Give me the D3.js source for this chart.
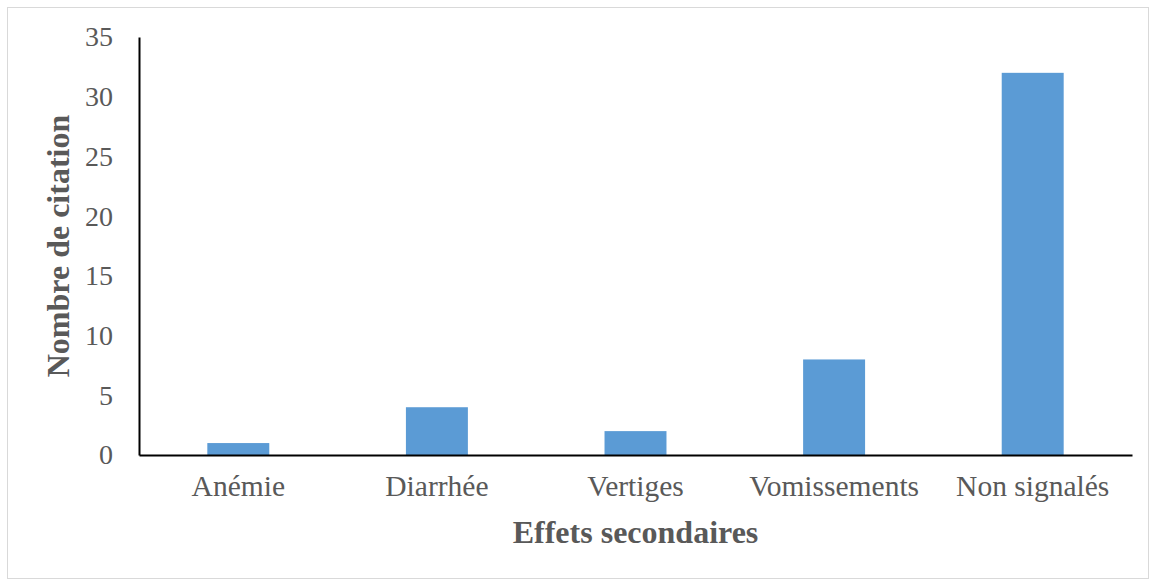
<!DOCTYPE html>
<html><head><meta charset="utf-8">
<script src="https://d3js.org/d3.v7.min.js"></script>
<style>body{margin:0;background:#fff}</style>
</head><body>
<script>
const categories = ["Anémie","Diarrhée","Vertiges","Vomissements","Non signalés"];
const values = [1,4,2,8,32];
const yTicks = [0,5,10,15,20,25,30,35];
const xTitle = "Effets secondaires";
const yTitle = "Nombre de citation";

(function(){
const W = 1155, H = 581;
const svg = d3.select("body").append("svg").attr("width", W).attr("height", H);
svg.append("rect").attr("x",7.5).attr("y",7.5).attr("width",1141).attr("height",571)
  .attr("fill","#fff").attr("stroke","#d9d9d9").attr("stroke-width",1);

const mLeft = 139, mRight = 1132, mTop = 37, mBottom = 455;
const x = d3.scaleBand().domain(categories).range([mLeft,mRight]).paddingInner(0.688).paddingOuter(0.344);
const y = d3.scaleLinear().domain([0,35]).range([mBottom,mTop]);
const font = "'Liberation Serif','Times New Roman',serif";

svg.selectAll("rect.bar").data(values).join("rect").attr("class","bar")
  .attr("x",(d,i)=>x(categories[i])).attr("width",x.bandwidth())
  .attr("y",d=>y(d)).attr("height",d=>mBottom-y(d)).attr("fill","#5B9BD5");

const ya = svg.append("g").attr("transform",`translate(${mLeft},0)`)
  .call(d3.axisLeft(y).tickValues(yTicks).tickSize(0).tickPadding(26));
ya.select(".domain").attr("stroke","#000").attr("stroke-width",2);
ya.selectAll("text").attr("font-family",font).attr("font-size",28).attr("fill","#595959");

const xa = svg.append("g").attr("transform",`translate(0,${mBottom})`)
  .call(d3.axisBottom(x).tickSize(0).tickPadding(20));
xa.select(".domain").attr("stroke","#000").attr("stroke-width",2);
xa.selectAll("text").attr("font-family",font).attr("font-size",29.5).attr("fill","#595959");

svg.append("text").attr("x",(mLeft+mRight)/2).attr("y",543).attr("text-anchor","middle")
  .attr("font-family",font).attr("font-size",32).attr("font-weight","bold").attr("fill","#595959").text(xTitle);
svg.append("text").attr("transform",`translate(69,246) rotate(-90)`).attr("text-anchor","middle")
  .attr("font-family",font).attr("font-size",32).attr("font-weight","bold").attr("fill","#595959").text(yTitle);
})();
</script>
</body></html>
